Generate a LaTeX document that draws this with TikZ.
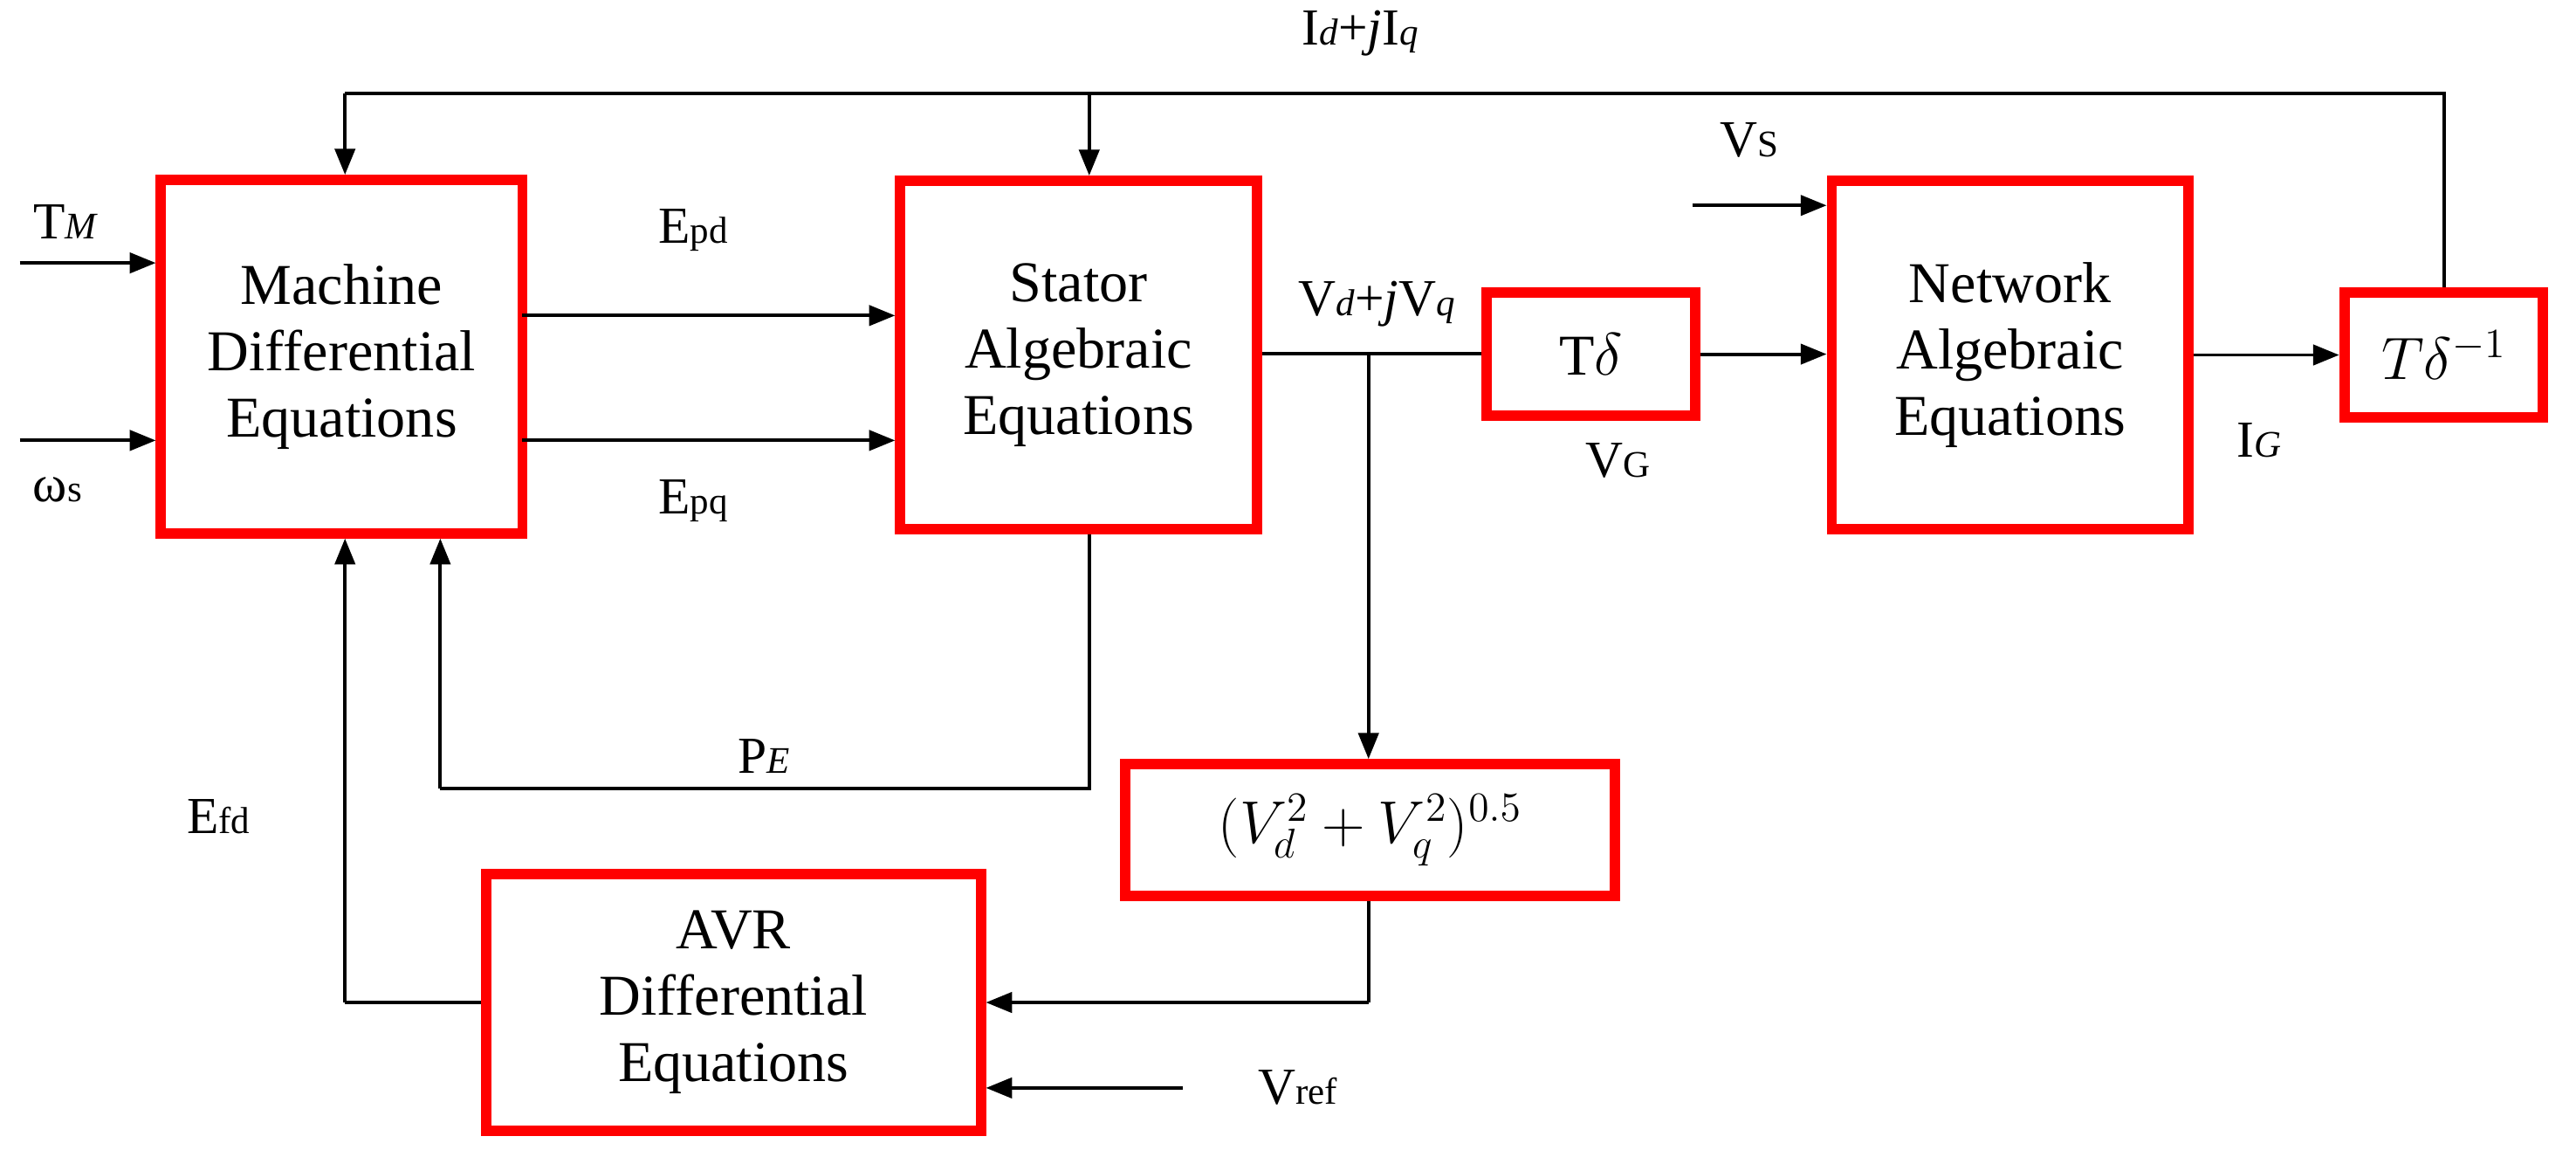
\documentclass[tikz,border=0pt]{standalone}
\usepackage{fontspec}
\setmainfont{Liberation Serif}
\usetikzlibrary{arrows.meta}
\newcommand{\sbs}[1]{{\fontsize{13}{14}\selectfont #1}}
\begin{document}
\begin{tikzpicture}[x=0.2mm,y=-0.2mm,
  blk/.style={draw=red,line width=3.6pt,inner sep=0pt,align=center,font=\fontsize{20}{23}\selectfont},
  lab/.style={font=\fontsize{18}{20}\selectfont,inner sep=1pt},
  con/.style={line width=1.2pt},
  arr/.style={con,-{Triangle[length=9pt,width=7pt]}}]
\useasboundingbox (0,0) rectangle (1568,704);
\node[blk,minimum width=220*0.2mm,minimum height=215*0.2mm] (mach) at (208,217) {Machine\\Differential\\Equations};
\node[blk,minimum width=217*0.2mm,minimum height=212*0.2mm] (stat) at (656.5,216) {Stator\\Algebraic\\Equations};
\node[blk,minimum width=127*0.2mm,minimum height=75*0.2mm] (td) at (968.5,215.5) {T$\delta$};
\node[blk,minimum width=217*0.2mm,minimum height=212*0.2mm] (net) at (1223.5,216) {Network\\Algebraic\\Equations};
\node[blk,minimum width=121*0.2mm,minimum height=76*0.2mm] (tdi) at (1487.5,216) {$T\delta^{-1}$};
\node[blk,minimum width=298*0.2mm,minimum height=80*0.2mm] (sq) at (834,505) {$(V_d^2+V_q^2)^{0.5}$};
\node[blk,minimum width=301*0.2mm,minimum height=156*0.2mm] (avr) at (446.5,610) {AVR\\Differential\\Equations};
% top feedback
\coordinate (tl) at (210,57); \coordinate (tm) at (663,57);
\draw[con] (tdi.north) |- (tl);
\draw[arr] (tl) -- (mach.north -| tl);
\draw[arr] (tm) -- (stat.north -| tm);
\node[lab] (lI) at (828,20) {I\sbs{\textit{d}}+\textit{j}I\sbs{\textit{q}}};
% inputs
\coordinate (tmin) at (12,160); \coordinate (wsin) at (12,268);
\draw[arr] (tmin) -- (mach.west |- tmin);
\draw[arr] (wsin) -- (mach.west |- wsin);
\node[lab] (lT) at (40,135) {T\sbs{\textit{M}}};
\node[lab] (lw) at (35,298) {ω\sbs{s}};
\coordinate (epd) at (318,192); \coordinate (epq) at (318,268);
\draw[arr] (epd) -- (stat.west |- epd);
\draw[arr] (epq) -- (stat.west |- epq);
\node[lab] (lepd) at (422,140) {E\sbs{pd}};
\node[lab] (lepq) at (422,305) {E\sbs{pq}};
% V
\coordinate (jn) at (833,215);
\draw[con] (stat.east |- jn) -- (td.west |- jn);
\draw[arr] (jn) -- (sq.north -| jn);
\node[lab] (lV) at (838,185) {V\sbs{\textit{d}}+\textit{j}V\sbs{\textit{q}}};
\draw[arr] (td.east) -- (net.west |- td.east);
\node[lab] (lVG) at (985,280) {V\sbs{G}};
\coordinate (vs) at (1030,125);
\draw[arr] (vs) -- (net.west |- vs);
\node[lab] (lVS) at (1065,85) {V\sbs{S}};
\draw[arr] (net.east |- tdi.west) -- (tdi.west);
\node[lab] (lIG) at (1375,268) {I\sbs{\textit{G}}};
% PE
\coordinate (pe1) at (663,480); \coordinate (pe2) at (268,480);
\draw[con] (stat.south -| pe1) -- (pe1) -- (pe2);
\draw[arr] (pe2) -- (mach.south -| pe2);
\node[lab] (lPE) at (465,460) {P\sbs{\textit{E}}};
% Efd
\coordinate (ef) at (210,610);
\draw[con] (avr.west |- ef) -- (ef);
\draw[arr] (ef) -- (mach.south -| ef);
\node[lab] (lEfd) at (133,497) {E\sbs{fd}};
% sqrt to AVR
\coordinate (s2) at (833,610);
\draw[con] (sq.south -| s2) -- (s2);
\draw[arr] (s2) -- (avr.east |- s2);
\coordinate (vr) at (720,662);
\draw[arr] (vr) -- (avr.east |- vr);
\node[lab] (lVr) at (790,662) {V\sbs{ref}};
\end{tikzpicture}
\end{document}
